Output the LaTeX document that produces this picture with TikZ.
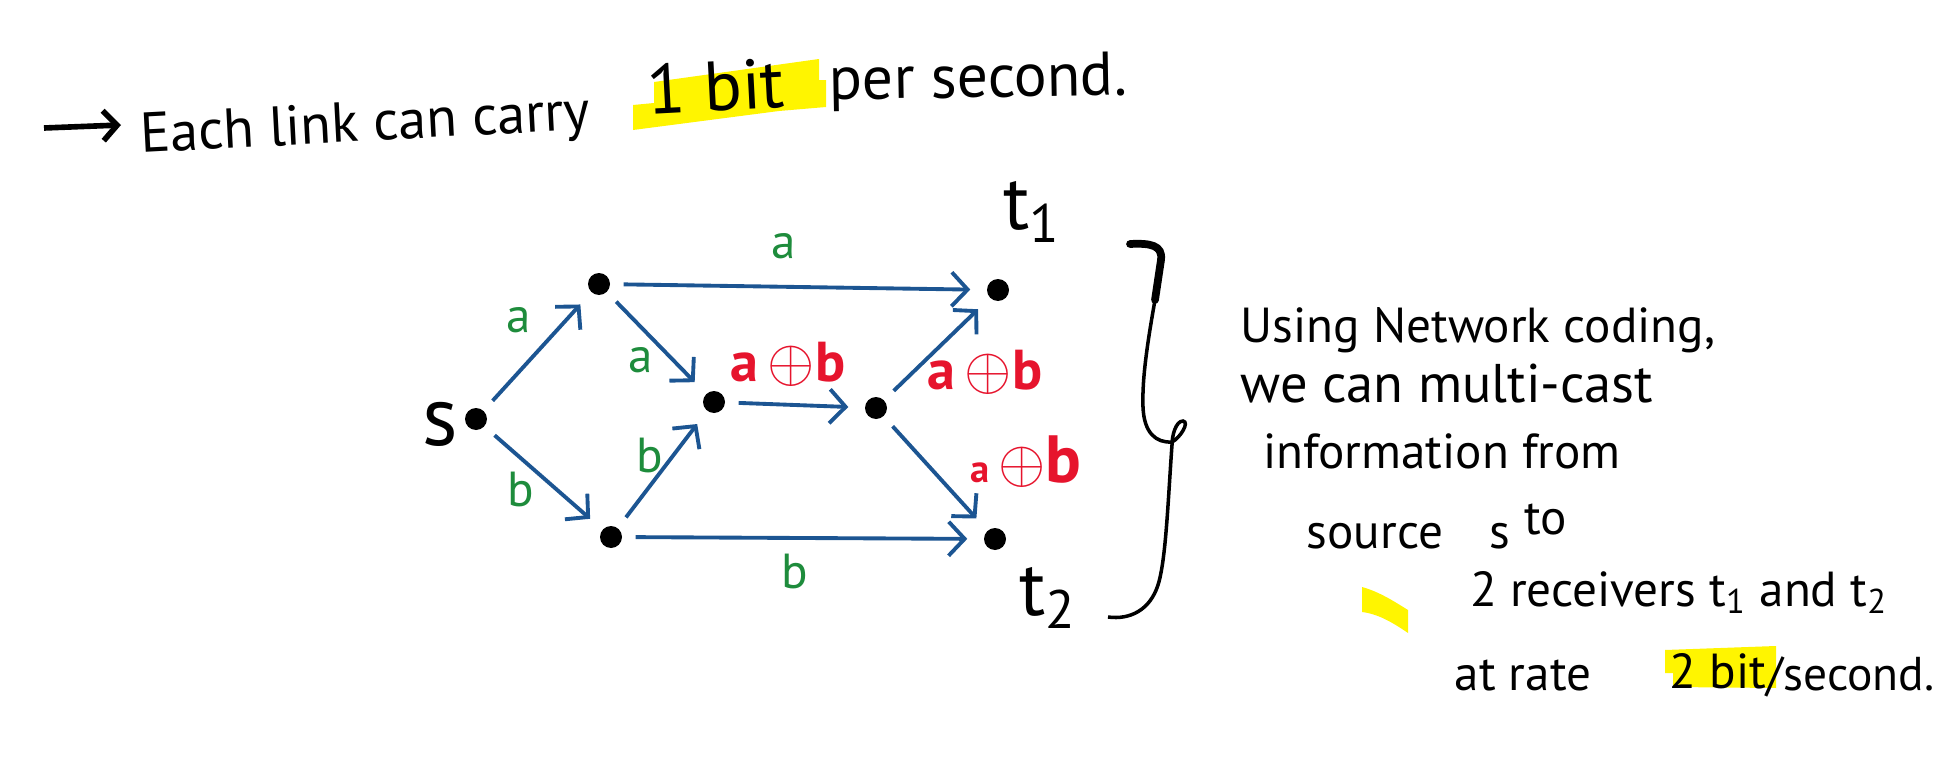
\documentclass[tikz,border=0pt]{standalone}
\usepackage{fontspec}
\setmainfont{PT Sans}
\usetikzlibrary{arrows.meta}
\definecolor{NetBlue}{HTML}{1C5592}
\definecolor{NetGreen}{HTML}{1E8C3C}
\definecolor{NetRed}{HTML}{E6142D}
\definecolor{HiYellow}{HTML}{FFF500}
\tikzset{
  dot/.style={circle,fill=black,inner sep=0pt,minimum size=0.22cm},
  flow/.style={NetBlue,line width=1.1pt,
    -{Straight Barb[length=1.6mm,width=3.4mm]},
    shorten <=1.3mm,shorten >=1.6mm},
  bitlbl/.style={text=NetGreen,font=\fontsize{14}{16}\selectfont},
  xorlbl/.style={text=NetRed,font=\fontsize{16}{18}\selectfont\bfseries},
  hand/.style={font=\fontsize{16}{19}\selectfont,anchor=base,inner sep=0pt},
  note/.style={font=\fontsize{14}{17}\selectfont,anchor=base,inner sep=0pt},
  hilite/.style={fill=HiYellow,draw=none}
}
\newcommand{\xorab}{a\,$\oplus$b}

\begin{document}
\begin{tikzpicture}
  \useasboundingbox (0,0) rectangle (19.5,-7.65);

  % highlights
  \path[hilite] (6.33,-1.05) -- (6.54,-1.03) -- (6.54,-0.82) -- (8.19,-0.59)
    -- (8.19,-0.80) -- (8.26,-0.80) -- (8.26,-1.07) -- (7.79,-1.11) -- (6.33,-1.30) -- cycle;
  \path[hilite] (16.65,-6.50) -- (17.76,-6.46) -- (17.76,-6.88) -- (16.73,-6.87)
    -- (16.73,-6.73) -- (16.65,-6.73) -- cycle;
  \path[hilite] (13.62,-5.87) .. controls (13.80,-5.92) and (13.95,-6.02) .. (14.08,-6.10)
    -- (14.08,-6.33) .. controls (13.92,-6.22) and (13.78,-6.14) .. (13.62,-6.12) -- cycle;

  % headline
  \coordinate (arrS) at (0.44,-1.28);
  \coordinate (arrE) at (1.21,-1.25);
  \draw[line width=1.6pt,-{Straight Barb[length=1.4mm,width=3mm]}] (arrS) -- (arrE);
  \node[hand,rotate=3] (linkTxt) at (3.66,-1.41) {Each link can carry};
  \node[hand,rotate=3,font=\fontsize{20}{22}\selectfont] (bitTxt) at (7.17,-1.11) {1 bit};
  \node[hand,rotate=1,anchor=base west,font=\fontsize{17.5}{20}\selectfont]
    (secTxt) at (8.29,-1.00) {per second.};

  % network
  \node[dot] (s) at (4.76,-4.19) {};
  \node[dot] (u) at (5.99,-2.84) {};
  \node[dot] (l) at (6.11,-5.37) {};
  \node[dot] (m1) at (7.14,-4.02) {};
  \node[dot] (m2) at (8.76,-4.08) {};
  \node[dot] (t1) at (9.98,-2.90) {};
  \node[dot] (t2) at (9.95,-5.39) {};

  \node[font=\fontsize{24}{26}\selectfont] (sLbl) at (4.40,-4.24) {s};
  \node[font=\fontsize{22}{24}\selectfont] (t1Lbl) at (10.32,-2.12) {t\textsubscript{1}};
  \node[font=\fontsize{22}{24}\selectfont] (t2Lbl) at (10.48,-5.98) {t\textsubscript{2}};

  \draw[flow] (s) -- (u);
  \draw[flow] (s) -- (l);
  \draw[flow] (u) -- (t1);
  \draw[flow] (u) -- (m1);
  \draw[flow] (l) -- (m1);
  \draw[flow] (l) -- (t2);
  \draw[flow] (m1) -- (m2);
  \draw[flow] (m2) -- (t1);
  \draw[flow] (m2) -- (t2);

  \node[bitlbl] (aTop) at (7.84,-2.46) {a};
  \node[bitlbl] (aUp) at (5.19,-3.20) {a};
  \node[bitlbl] (aMid) at (6.41,-3.60) {a};
  \node[bitlbl] (bDown) at (5.21,-4.89) {b};
  \node[bitlbl] (bMid) at (6.50,-4.55) {b};
  \node[bitlbl] (bBot) at (7.95,-5.71) {b};
  \node[xorlbl] (xMid) at (7.88,-3.64) {\xorab};
  \node[xorlbl] (xUp) at (9.85,-3.72) {\xorab};
  \node[xorlbl] (xDown) at (10.26,-4.62)
    {{\fontsize{11}{12}\selectfont a}\,{\fontsize{19}{20}\selectfont$\oplus$b}};

  % brace
  \draw[line width=2.2pt,line cap=round] (11.30,-2.44)
    .. controls (11.50,-2.43) and (11.63,-2.45) .. (11.61,-2.60) -- (11.55,-3.00);
  \draw[line width=1pt] (11.55,-3.00) .. controls (11.47,-3.45) and (11.42,-3.80) .. (11.43,-4.07)
    .. controls (11.44,-4.33) and (11.56,-4.43) .. (11.72,-4.42)
    .. controls (11.80,-4.38) and (11.90,-4.22) .. (11.83,-4.21)
    .. controls (11.76,-4.21) and (11.72,-4.35) .. (11.72,-4.45)
    .. controls (11.68,-5.00) and (11.66,-5.60) .. (11.58,-5.85)
    .. controls (11.50,-6.10) and (11.30,-6.20) .. (11.08,-6.17);

  % explanation
  \node[note] (noteA) at (14.78,-3.43) {Using Network coding,};
  \node[note,font=\fontsize{15.5}{18}\selectfont] (noteB) at (14.47,-4.02) {we can multi-cast};
  \node[note] (noteC) at (14.42,-4.68) {information from};
  \node[note] (noteD) at (13.75,-5.48) {source};
  \node[note] (noteS) at (15.00,-5.48) {s};
  \node[note] (noteTo) at (15.46,-5.34) {to};
  \node[note] (noteE) at (16.79,-6.06) {2 receivers t\textsubscript{1} and t\textsubscript{2}};
  \node[note] (noteF) at (15.23,-6.90) {at rate};
  \node[note] (noteG) at (17.18,-6.88) {2 bit};
  \node[note,anchor=base west,font=\fontsize{13.5}{16}\selectfont]
    (noteH) at (17.66,-6.90) {/second.};
\end{tikzpicture}
\end{document}
